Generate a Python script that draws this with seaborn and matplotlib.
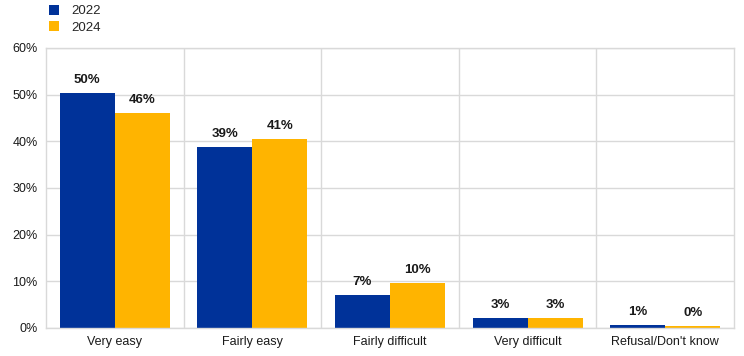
import matplotlib
matplotlib.use("Agg")
import matplotlib.pyplot as plt
import pandas as pd
import seaborn as sns
from matplotlib.patches import Patch

categories = ["Very easy", "Fairly easy", "Fairly difficult", "Very difficult", "Refusal/Don't know"]
years = ["2022", "2024"]
values_2022 = [50.4, 38.8, 7.1, 2.2, 0.6]
values_2024 = [46.1, 40.5, 9.7, 2.2, 0.45]
labels_2022 = ["50%", "39%", "7%", "3%", "1%"]
labels_2024 = ["46%", "41%", "10%", "3%", "0%"]
y_ticks = [0, 10, 20, 30, 40, 50, 60]
colors = ["#003299", "#FFB400"]

data = pd.DataFrame({
    "category": categories * 2,
    "year": [years[0]] * len(categories) + [years[1]] * len(categories),
    "value": values_2022 + values_2024,
    "label": labels_2022 + labels_2024,
})

sns.set_style("white")
plt.rcParams["font.family"] = ["Liberation Sans", "DejaVu Sans"]

fig = plt.figure(figsize=(7.44, 3.56), dpi=100)
ax = fig.add_axes([46 / 744, 1 - 328 / 356, 688 / 744, 280 / 356])
sns.barplot(data=data, x="category", y="value", hue="year", hue_order=years,
            palette=colors, width=0.8, saturation=1, linewidth=0, ax=ax, legend=False)

ax.set_ylim(0, 60)
ax.set_xlim(-0.5, len(categories) - 0.5)
ax.set_yticks(y_ticks)
ax.set_yticklabels([f"{t}%" for t in y_ticks], fontsize=9)
ax.set_xticks(range(len(categories)))
ax.set_xticklabels(categories, fontsize=9)
ax.set_xlabel("")
ax.set_ylabel("")
ax.tick_params(axis="both", length=0, pad=6, colors="#1a1a1a")
ax.yaxis.grid(True, color="#d9d9d9", linewidth=1)
for boundary in range(1, len(categories)):
    ax.axvline(boundary - 0.5, color="#d9d9d9", linewidth=1, zorder=0)
ax.set_axisbelow(True)
for spine in ax.spines.values():
    spine.set_color("#d9d9d9")
    spine.set_linewidth(1)

for container, labels in zip(ax.containers, [labels_2022, labels_2024]):
    ax.bar_label(container, labels=labels, padding=5, fontsize=9.5, fontweight="bold", color="#1a1a1a")

handles = [Patch(facecolor=c, edgecolor="none") for c in colors]
fig.legend(handles, years, loc="upper left", bbox_to_anchor=(37 / 744, 1.02), frameon=False,
           fontsize=9.5, handlelength=0.8, handleheight=0.8, handletextpad=0.9, labelspacing=0.3)

fig.savefig("out.png", dpi=100)
